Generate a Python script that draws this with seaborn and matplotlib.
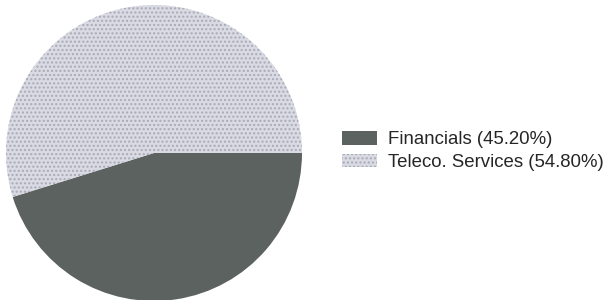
import matplotlib
matplotlib.use("Agg")
import matplotlib.pyplot as plt
import seaborn as sns

# Sector weights
sectors = ["Financials", "Teleco. Services"]
weights = [45.20, 54.80]
colors = ["#5c625f", "#d9dae3"]

sns.set_theme(style="white")
plt.rcParams["font.family"] = ["Liberation Sans", "DejaVu Sans"]

fig = plt.figure(figsize=(6.05, 3.0), dpi=100)
ax = fig.add_axes([6 / 605, -1 / 300, 296 / 605, 296 / 300])

wedges, _ = ax.pie(weights, colors=colors, startangle=0, counterclock=False,
                   radius=1.0, wedgeprops=dict(linewidth=0))
wedges[1].set_hatch("....")
wedges[1].set_edgecolor("#a8aab4")
wedges[1].set_linewidth(0)
ax.set_xlim(-1.0, 1.0)
ax.set_ylim(-1.0, 1.0)
ax.set_aspect("equal")
ax.axis("off")

labels = [f"{s} ({w:.2f}%)" for s, w in zip(sectors, weights)]
leg = fig.legend(wedges, labels, loc="center left",
                 bbox_to_anchor=(338 / 605, 1 - 151 / 300),
                 frameon=False, fontsize=13.4, handlelength=1.9,
                 handleheight=0.75, handletextpad=0.6, labelspacing=0.3,
                 borderpad=0.2, borderaxespad=0)

fig.savefig("out.png", dpi=100, facecolor="white")
